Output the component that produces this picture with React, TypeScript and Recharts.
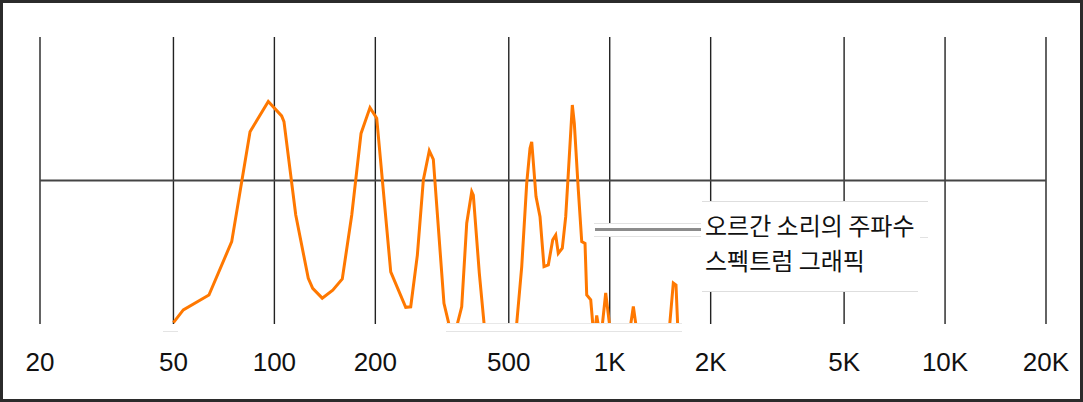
import React from 'react';
import { LineChart, Line, XAxis, YAxis, CartesianGrid, ReferenceLine } from 'recharts';

// Frequencies (Hz) and relative levels (0–100 scale, values < 0 fall below the visible floor)
const frequencies = [
  50, 53.5, 63.8, 74.6, 84.6, 95.9, 105.1, 106.8, 115.8, 126.2, 130.1, 138.9, 149.3, 159.4,
  170.1, 181.3, 192.8, 201.9, 222.3, 246.4, 255.0, 266.9, 278.1, 289.7, 297.8, 320.4, 340.9,
  361.9, 374.6, 387.7, 392.0, 408.4, 421.9, 470.8, 528.0, 546.5, 565.5, 578.5, 585.3, 602.8,
  619.6, 636.8, 656.0, 676.1, 690.1, 702.5, 722.1, 739.2, 752.5, 773.5, 784.2, 806.0, 825.1,
  844.0, 853.9, 877.7, 889.8, 902.1, 914.5, 932.2, 945.2, 972.8, 1005.4, 1145.6, 1176, 1206,
  1502.6, 1547.5, 1576.3, 1598,
];
const levels = [
  0.5, 4.9, 10.1, 28.7, 67.0, 77.5, 72.5, 70.5, 38.0, 15.9, 12.4, 9.0, 11.8, 15.7,
  38.0, 66.4, 75.4, 71.7, 18.2, 5.8, 6.0, 24.0, 50.2, 60.4, 57.4, 7.2, -6,
  6.0, 35.1, 46.1, 44.9, 17.7, 0.2, -40, 0.2, 20.0, 49.0, 61.2, 63.5, 44.4,
  37.4, 20.0, 20.6, 29.3, 31.0, 24.6, 26.4, 37.4, 52.5, 76.3, 69.9, 46.7, 28.7,
  28.1, 10.1, 8.4, 0.2, -3, 3.0, -3, -3, 10.8, -3, -3, 6.1, -3,
  -3, 14.3, 13.6, -3,
];

const tickValues = [20, 50, 100, 200, 500, 1000, 2000, 5000, 10000, 20000];
const tickLabels = ['20', '50', '100', '200', '500', '1K', '2K', '5K', '10K', '20K'];

const annotationLines = ['오르간 소리의 주파수', '스펙트럼 그래픽'];

const data = frequencies.map((f, i) => ({ freq: f, level: levels[i] }));

const W = 1083;
const H = 402;

const renderTick = (props: any) => {
  const { x, y, payload } = props;
  const idx = tickValues.indexOf(payload.value);
  return (
    <text
      x={x}
      y={y + 47}
      textAnchor="middle"
      fontSize={26}
      fontFamily="'Liberation Sans', Arial, sans-serif"
      fill="#111"
    >
      {idx >= 0 ? tickLabels[idx] : ''}
    </text>
  );
};

export default function App() {
  return (
    <div
      style={{
        position: 'fixed',
        left: 0,
        top: 0,
        width: W,
        height: H,
        background: '#fff',
        overflow: 'hidden',
      }}
    >
      <LineChart width={W} height={H} data={data} margin={{ top: 37, right: 37, bottom: 0, left: 40 }}>
        <CartesianGrid vertical horizontal={false} stroke="#222" strokeWidth={1.4} />
        <XAxis
          dataKey="freq"
          type="number"
          scale="log"
          domain={[20, 20000]}
          ticks={tickValues}
          interval={0}
          allowDataOverflow
          axisLine={false}
          tickLine={false}
          tickSize={0}
          tickMargin={0}
          height={78}
          tick={renderTick}
        />
        <YAxis hide type="number" domain={[0, 100]} allowDataOverflow />
        <ReferenceLine y={50} stroke="#444" strokeWidth={2} />
        <Line
          type="linear"
          dataKey="level"
          stroke="#ff7800"
          strokeWidth={3}
          dot={false}
          activeDot={false}
          isAnimationActive={false}
        />
      </LineChart>

      <svg
        width={W}
        height={H}
        style={{ position: 'absolute', left: 0, top: 0, pointerEvents: 'none' }}
      >
        {/* faint masks at the floor */}
        <line x1={163} x2={178} y1={331.5} y2={331.5} stroke="#e4e4e4" strokeWidth={1} />
        <line x1={446} x2={682} y1={323.5} y2={323.5} stroke="#e8e8e8" strokeWidth={1} />
        <line x1={446} x2={682} y1={331.5} y2={331.5} stroke="#e4e4e4" strokeWidth={1} />

        {/* pointer */}
        <rect x={594} y={223} width={107} height={13} fill="#fff" />
        <line x1={594} x2={701} y1={223.5} y2={223.5} stroke="#e2e2e2" strokeWidth={1} />
        <line x1={594} x2={701} y1={236.5} y2={236.5} stroke="#e2e2e2" strokeWidth={1} />
        <line x1={595} x2={701} y1={229.5} y2={229.5} stroke="#8c8c8c" strokeWidth={3} />

        {/* callout box */}
        <rect x={702} y={201} width={226} height={90} fill="#fff" />
        <line x1={702} x2={928} y1={201.5} y2={201.5} stroke="#dedede" strokeWidth={1} />
        <line x1={702} x2={918} y1={291.5} y2={291.5} stroke="#dedede" strokeWidth={1} />
        <line x1={920} x2={928} y1={237.5} y2={237.5} stroke="#e2e2e2" strokeWidth={1} />
        <text
          x={705}
          y={235}
          fontSize={24}
          fontFamily="'Noto Sans CJK KR', 'Noto Sans', sans-serif"
          fill="#111"
        >
          {annotationLines[0]}
        </text>
        <text
          x={705}
          y={270}
          fontSize={24}
          fontFamily="'Noto Sans CJK KR', 'Noto Sans', sans-serif"
          fill="#111"
        >
          {annotationLines[1]}
        </text>
      </svg>

      <div
        style={{
          position: 'absolute',
          left: 0,
          top: 0,
          width: W,
          height: H,
          boxSizing: 'border-box',
          border: '3px solid #2b2b2b',
          pointerEvents: 'none',
        }}
      />
    </div>
  );
}
